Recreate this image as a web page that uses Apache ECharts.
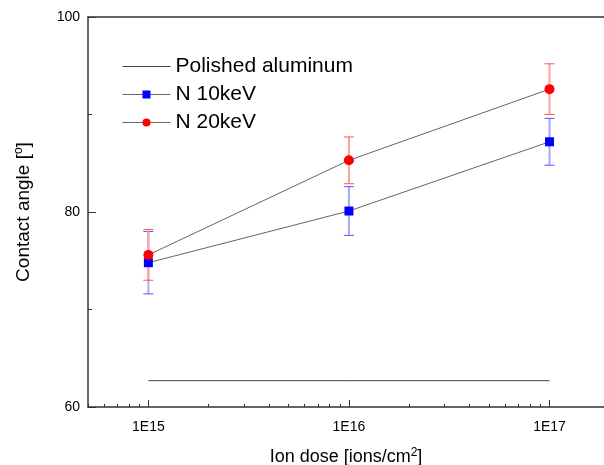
<!DOCTYPE html>
<html>
<head>
<meta charset="utf-8">
<script src="https://cdn.jsdelivr.net/npm/echarts@6/dist/echarts.min.js"></script>
<style>
  html, body { margin: 0; padding: 0; background: #fff; }
  #chart { width: 604px; height: 465px; }
</style>
</head>
<body>
<div id="chart"></div>
<script>
// ion dose (ions/cm2)
var doses = [1e15, 1e16, 1e17];
var polished = [62.7, 62.7, 62.7];
var n10 = [74.8, 80.1, 87.2];
var n10Low = [71.6, 77.6, 84.8];
var n10High = [78.0, 82.6, 89.6];
var n20 = [75.6, 85.3, 92.6];
var n20Low = [73.0, 82.9, 90.0];
var n20High = [78.2, 87.7, 95.2];
var xMajorTicks = [15, 16, 17]; // log10 of dose
var xRange = [5e14, 1.87e17];

var FONT = 'Liberation Sans, Arial, sans-serif';
var lg = function (v) { return Math.log10(v); };

// minor ticks 2..9 of each decade, in log space
var xMinorTicks = [];
for (var e = 14; e <= 17; e++) {
  for (var k = 2; k <= 9; k++) {
    var v = lg(k * Math.pow(10, e));
    if (v >= lg(xRange[0]) && v <= lg(xRange[1])) xMinorTicks.push(v);
  }
}

function pts(ys) {
  return doses.map(function (d, i) { return [lg(d), ys[i]]; });
}
function errData(lo, hi) {
  return doses.map(function (d, i) { return [lg(d), lo[i], hi[i]]; });
}
function errBar(barColor, capColor) {
  return function (params, api) {
    var x = api.value(0);
    var lo = api.coord([x, api.value(1)]);
    var hi = api.coord([x, api.value(2)]);
    var w = 5;
    return {
      type: 'group',
      children: [
        { type: 'line', shape: { x1: lo[0], y1: lo[1], x2: hi[0], y2: hi[1] }, style: { stroke: barColor, lineWidth: 2 } },
        { type: 'line', shape: { x1: hi[0] - w, y1: hi[1], x2: hi[0] + w, y2: hi[1] }, style: { stroke: capColor, lineWidth: 1 } },
        { type: 'line', shape: { x1: lo[0] - w, y1: lo[1], x2: lo[0] + w, y2: lo[1] }, style: { stroke: capColor, lineWidth: 1 } }
      ]
    };
  };
}

var axisLine = { show: true, lineStyle: { color: '#333', width: 1.5 } };
var xBase = { min: lg(xRange[0]), max: lg(xRange[1]), type: 'value', splitLine: { show: false } };
var supStyle = { fontSize: 12, verticalAlign: 'top', padding: [0, 0, 9, 0], color: '#000' };
// plain line icon (thin bar inside a 48x10 box)
var lineIcon = 'path://M0,0L0.01,0L0.01,0.01ZM0,4.5L48,4.5L48,5.5L0,5.5ZM47.99,9.99L48,9.99L48,10Z';

var chart = echarts.init(document.getElementById('chart'));
chart.setOption({
  animation: false,
  backgroundColor: '#fff',
  textStyle: { fontFamily: FONT },
  grid: { left: 88, top: 17, bottom: 58, right: 0, outerBoundsMode: 'none', containLabel: false },
  legend: {
    orient: 'vertical',
    left: 122,
    top: 56,
    padding: 0,
    itemWidth: 48,
    itemHeight: 10,
    itemGap: 7,
    lineStyle: { width: 1, color: '#666' },
    textStyle: { fontSize: 21, color: '#000', fontFamily: FONT },
    data: [
      { name: 'Polished aluminum', icon: lineIcon, itemStyle: { color: '#444' } },
      'N 10keV',
      'N 20keV'
    ]
  },
  xAxis: [
    Object.assign({}, xBase, {
      position: 'bottom',
      name: 'Ion dose [ions/cm{sup|2}]',
      nameLocation: 'middle',
      nameGap: 40,
      nameTextStyle: { fontSize: 18, color: '#000', fontFamily: FONT, rich: { sup: supStyle } },
      axisLine: axisLine,
      axisTick: { inside: true, length: 7, customValues: xMajorTicks, lineStyle: { color: '#333' } },
      axisLabel: {
        customValues: xMajorTicks, margin: 13, fontSize: 14, color: '#000', fontFamily: FONT,
        formatter: function (v) { return '1E' + Math.round(v); }
      }
    }),
    Object.assign({}, xBase, {
      position: 'bottom',
      axisLine: { show: false },
      axisTick: { inside: true, length: 3, customValues: xMinorTicks, lineStyle: { color: '#333' } },
      axisLabel: { show: false }
    }),
    Object.assign({}, xBase, {
      position: 'top',
      axisLine: axisLine,
      axisTick: { show: false },
      axisLabel: { show: false }
    })
  ],
  yAxis: {
    type: 'value',
    min: 60,
    max: 100,
    interval: 20,
    name: 'Contact angle [{sup|o}]',
    nameLocation: 'middle',
    nameGap: 54,
    nameTextStyle: { fontSize: 19, color: '#000', fontFamily: FONT, rich: { sup: supStyle } },
    axisLine: axisLine,
    axisTick: { inside: true, length: 8, lineStyle: { color: '#333' } },
    minorTick: { show: true, splitNumber: 2, length: 4, lineStyle: { color: '#333' } },
    axisLabel: { margin: 8, fontSize: 14, color: '#000', fontFamily: FONT },
    splitLine: { show: false }
  },
  series: [
    {
      name: 'Polished aluminum',
      type: 'line',
      data: pts(polished),
      showSymbol: false,
      symbol: 'none',
      lineStyle: { color: '#444', width: 1 },
      itemStyle: { color: '#444' }
    },
    {
      type: 'custom',
      data: errData(n10Low, n10High),
      renderItem: errBar('#a8a8ff', '#5555ff'),
      z: 2
    },
    {
      type: 'custom',
      data: errData(n20Low, n20High),
      renderItem: errBar('#ffa0a0', '#ff5555'),
      z: 2
    },
    {
      name: 'N 10keV',
      type: 'line',
      data: pts(n10),
      symbol: 'rect',
      symbolSize: 9,
      lineStyle: { color: '#666', width: 1 },
      itemStyle: { color: '#0000ff' },
      z: 3
    },
    {
      name: 'N 20keV',
      type: 'line',
      data: pts(n20),
      symbol: 'circle',
      symbolSize: 10,
      lineStyle: { color: '#666', width: 1 },
      itemStyle: { color: '#ff0000' },
      z: 4
    }
  ]
});
</script>
</body>
</html>
